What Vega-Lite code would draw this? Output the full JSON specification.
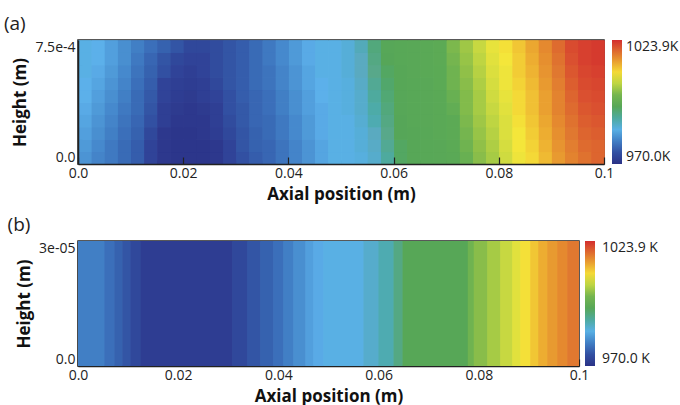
{
"$schema": "https://vega.github.io/schema/vega-lite/v6.json",
"background": "white",
"padding": {"left": 3, "top": 14, "right": 0, "bottom": 0},
"spacing": 12,
"config": {
  "font": "Open Sans",
  "view": {"stroke": "#222", "strokeWidth": 1.5},
  "axis": {"grid": false, "domainColor": "#222", "domainWidth": 1.5, "tickColor": "#222", "tickWidth": 1.2, "labelColor": "#222", "titleColor": "#111", "labelFontSize": 14, "titleFontSize": 17, "titleFontWeight": "bold", "labelFont": "Open Sans", "titleFont": "Open Sans"},
  "legend": {"labelFontSize": 14, "labelColor": "#222", "labelFont": "Open Sans", "gradientStrokeWidth": 0},
  "title": {"fontSize": 19, "fontWeight": "normal", "color": "#222", "anchor": "start", "frame": "bounds", "font": "Open Sans"}
},
"datasets": {
"a": [
{"x":0,"y":0,"t":982},{"x":0.0025,"y":0,"t":980.5},{"x":0.005,"y":0,"t":979.5},{"x":0.0075,"y":0,"t":978},{"x":0.01,"y":0,"t":976.5},{"x":0.0125,"y":0,"t":973.5},{"x":0.015,"y":0,"t":971.5},{"x":0.0175,"y":0,"t":971},{"x":0.02,"y":0,"t":971},{"x":0.0225,"y":0,"t":971},{"x":0.025,"y":0,"t":971.5},{"x":0.0275,"y":0,"t":973.5},{"x":0.03,"y":0,"t":975},{"x":0.0325,"y":0,"t":976.5},{"x":0.035,"y":0,"t":977.5},{"x":0.0375,"y":0,"t":979},{"x":0.04,"y":0,"t":980.5},{"x":0.0425,"y":0,"t":982},{"x":0.045,"y":0,"t":983.5},{"x":0.0475,"y":0,"t":985},{"x":0.05,"y":0,"t":985},{"x":0.0525,"y":0,"t":985.5},{"x":0.055,"y":0,"t":987},{"x":0.0575,"y":0,"t":990},{"x":0.06,"y":0,"t":993.5},{"x":0.0625,"y":0,"t":995},{"x":0.065,"y":0,"t":995.5},{"x":0.0675,"y":0,"t":996},{"x":0.07,"y":0,"t":997},{"x":0.0725,"y":0,"t":999},{"x":0.075,"y":0,"t":1001.5},{"x":0.0775,"y":0,"t":1003.5},{"x":0.08,"y":0,"t":1006},{"x":0.0825,"y":0,"t":1008.5},{"x":0.085,"y":0,"t":1010},{"x":0.0875,"y":0,"t":1012.5},{"x":0.09,"y":0,"t":1015},{"x":0.0925,"y":0,"t":1017},{"x":0.095,"y":0,"t":1018.5},{"x":0.0975,"y":0,"t":1019.5},
{"x":0,"y":0.000075,"t":982.5},{"x":0.0025,"y":0.000075,"t":981},{"x":0.005,"y":0.000075,"t":979.5},{"x":0.0075,"y":0.000075,"t":978},{"x":0.01,"y":0.000075,"t":976.5},{"x":0.0125,"y":0.000075,"t":973.5},{"x":0.015,"y":0.000075,"t":971.5},{"x":0.0175,"y":0.000075,"t":971},{"x":0.02,"y":0.000075,"t":971},{"x":0.0225,"y":0.000075,"t":971},{"x":0.025,"y":0.000075,"t":971.5},{"x":0.0275,"y":0.000075,"t":973.5},{"x":0.03,"y":0.000075,"t":975.5},{"x":0.0325,"y":0.000075,"t":977},{"x":0.035,"y":0.000075,"t":977.5},{"x":0.0375,"y":0.000075,"t":979},{"x":0.04,"y":0.000075,"t":980.5},{"x":0.0425,"y":0.000075,"t":982},{"x":0.045,"y":0.000075,"t":983.5},{"x":0.0475,"y":0.000075,"t":985},{"x":0.05,"y":0.000075,"t":985},{"x":0.0525,"y":0.000075,"t":986},{"x":0.055,"y":0.000075,"t":987.5},{"x":0.0575,"y":0.000075,"t":990.5},{"x":0.06,"y":0.000075,"t":993.5},{"x":0.0625,"y":0.000075,"t":995},{"x":0.065,"y":0.000075,"t":995.5},{"x":0.0675,"y":0.000075,"t":996},{"x":0.07,"y":0.000075,"t":997.5},{"x":0.0725,"y":0.000075,"t":999.5},{"x":0.075,"y":0.000075,"t":1002},{"x":0.0775,"y":0.000075,"t":1004},{"x":0.08,"y":0.000075,"t":1006.5},{"x":0.0825,"y":0.000075,"t":1009},{"x":0.085,"y":0.000075,"t":1010.5},{"x":0.0875,"y":0.000075,"t":1013},{"x":0.09,"y":0.000075,"t":1015.5},{"x":0.0925,"y":0.000075,"t":1017.5},{"x":0.095,"y":0.000075,"t":1019},{"x":0.0975,"y":0.000075,"t":1019.5},
{"x":0,"y":0.00015,"t":983},{"x":0.0025,"y":0.00015,"t":981.5},{"x":0.005,"y":0.00015,"t":980},{"x":0.0075,"y":0.00015,"t":978.5},{"x":0.01,"y":0.00015,"t":977},{"x":0.0125,"y":0.00015,"t":974},{"x":0.015,"y":0.00015,"t":971.5},{"x":0.0175,"y":0.00015,"t":971},{"x":0.02,"y":0.00015,"t":971},{"x":0.0225,"y":0.00015,"t":971.5},{"x":0.025,"y":0.00015,"t":972.5},{"x":0.0275,"y":0.00015,"t":974},{"x":0.03,"y":0.00015,"t":975.5},{"x":0.0325,"y":0.00015,"t":977},{"x":0.035,"y":0.00015,"t":978},{"x":0.0375,"y":0.00015,"t":979.5},{"x":0.04,"y":0.00015,"t":981},{"x":0.0425,"y":0.00015,"t":982.5},{"x":0.045,"y":0.00015,"t":984},{"x":0.0475,"y":0.00015,"t":985},{"x":0.05,"y":0.00015,"t":985},{"x":0.0525,"y":0.00015,"t":986},{"x":0.055,"y":0.00015,"t":988},{"x":0.0575,"y":0.00015,"t":991},{"x":0.06,"y":0.00015,"t":994},{"x":0.0625,"y":0.00015,"t":995},{"x":0.065,"y":0.00015,"t":995.5},{"x":0.0675,"y":0.00015,"t":996.5},{"x":0.07,"y":0.00015,"t":998},{"x":0.0725,"y":0.00015,"t":1000},{"x":0.075,"y":0.00015,"t":1002.5},{"x":0.0775,"y":0.00015,"t":1004.5},{"x":0.08,"y":0.00015,"t":1007},{"x":0.0825,"y":0.00015,"t":1009},{"x":0.085,"y":0.00015,"t":1011},{"x":0.0875,"y":0.00015,"t":1013.5},{"x":0.09,"y":0.00015,"t":1016},{"x":0.0925,"y":0.00015,"t":1018},{"x":0.095,"y":0.00015,"t":1019.5},{"x":0.0975,"y":0.00015,"t":1020},
{"x":0,"y":0.000225,"t":983.5},{"x":0.0025,"y":0.000225,"t":982},{"x":0.005,"y":0.000225,"t":980.5},{"x":0.0075,"y":0.000225,"t":979},{"x":0.01,"y":0.000225,"t":977.5},{"x":0.0125,"y":0.000225,"t":975},{"x":0.015,"y":0.000225,"t":973},{"x":0.0175,"y":0.000225,"t":971.5},{"x":0.02,"y":0.000225,"t":971.5},{"x":0.0225,"y":0.000225,"t":971.5},{"x":0.025,"y":0.000225,"t":973},{"x":0.0275,"y":0.000225,"t":974.5},{"x":0.03,"y":0.000225,"t":976},{"x":0.0325,"y":0.000225,"t":977.5},{"x":0.035,"y":0.000225,"t":978},{"x":0.0375,"y":0.000225,"t":979.5},{"x":0.04,"y":0.000225,"t":981},{"x":0.0425,"y":0.000225,"t":982.5},{"x":0.045,"y":0.000225,"t":984},{"x":0.0475,"y":0.000225,"t":985},{"x":0.05,"y":0.000225,"t":985},{"x":0.0525,"y":0.000225,"t":986.5},{"x":0.055,"y":0.000225,"t":989},{"x":0.0575,"y":0.000225,"t":991.5},{"x":0.06,"y":0.000225,"t":994},{"x":0.0625,"y":0.000225,"t":995.5},{"x":0.065,"y":0.000225,"t":996},{"x":0.0675,"y":0.000225,"t":996.5},{"x":0.07,"y":0.000225,"t":998},{"x":0.0725,"y":0.000225,"t":1000.5},{"x":0.075,"y":0.000225,"t":1003},{"x":0.0775,"y":0.000225,"t":1005},{"x":0.08,"y":0.000225,"t":1007},{"x":0.0825,"y":0.000225,"t":1009.5},{"x":0.085,"y":0.000225,"t":1011.5},{"x":0.0875,"y":0.000225,"t":1014},{"x":0.09,"y":0.000225,"t":1016.5},{"x":0.0925,"y":0.000225,"t":1018.5},{"x":0.095,"y":0.000225,"t":1020},{"x":0.0975,"y":0.000225,"t":1020.5},
{"x":0,"y":0.0003,"t":984},{"x":0.0025,"y":0.0003,"t":982.5},{"x":0.005,"y":0.0003,"t":981},{"x":0.0075,"y":0.0003,"t":979.5},{"x":0.01,"y":0.0003,"t":978},{"x":0.0125,"y":0.0003,"t":975.5},{"x":0.015,"y":0.0003,"t":973},{"x":0.0175,"y":0.0003,"t":972},{"x":0.02,"y":0.0003,"t":971.5},{"x":0.0225,"y":0.0003,"t":972},{"x":0.025,"y":0.0003,"t":973},{"x":0.0275,"y":0.0003,"t":975},{"x":0.03,"y":0.0003,"t":976},{"x":0.0325,"y":0.0003,"t":977.5},{"x":0.035,"y":0.0003,"t":978.5},{"x":0.0375,"y":0.0003,"t":980},{"x":0.04,"y":0.0003,"t":981.5},{"x":0.0425,"y":0.0003,"t":983},{"x":0.045,"y":0.0003,"t":984},{"x":0.0475,"y":0.0003,"t":985},{"x":0.05,"y":0.0003,"t":985.5},{"x":0.0525,"y":0.0003,"t":987},{"x":0.055,"y":0.0003,"t":989.5},{"x":0.0575,"y":0.0003,"t":992},{"x":0.06,"y":0.0003,"t":994.5},{"x":0.0625,"y":0.0003,"t":995.5},{"x":0.065,"y":0.0003,"t":996},{"x":0.0675,"y":0.0003,"t":997},{"x":0.07,"y":0.0003,"t":998.5},{"x":0.0725,"y":0.0003,"t":1001},{"x":0.075,"y":0.0003,"t":1003.5},{"x":0.0775,"y":0.0003,"t":1005.5},{"x":0.08,"y":0.0003,"t":1007.5},{"x":0.0825,"y":0.0003,"t":1010},{"x":0.085,"y":0.0003,"t":1012},{"x":0.0875,"y":0.0003,"t":1014.5},{"x":0.09,"y":0.0003,"t":1017},{"x":0.0925,"y":0.0003,"t":1019},{"x":0.095,"y":0.0003,"t":1020.5},{"x":0.0975,"y":0.0003,"t":1021},
{"x":0,"y":0.000375,"t":984.5},{"x":0.0025,"y":0.000375,"t":983},{"x":0.005,"y":0.000375,"t":981.5},{"x":0.0075,"y":0.000375,"t":980},{"x":0.01,"y":0.000375,"t":978},{"x":0.0125,"y":0.000375,"t":976},{"x":0.015,"y":0.000375,"t":973.5},{"x":0.0175,"y":0.000375,"t":972.5},{"x":0.02,"y":0.000375,"t":972},{"x":0.0225,"y":0.000375,"t":973},{"x":0.025,"y":0.000375,"t":973.5},{"x":0.0275,"y":0.000375,"t":975},{"x":0.03,"y":0.000375,"t":976.5},{"x":0.0325,"y":0.000375,"t":977.5},{"x":0.035,"y":0.000375,"t":978.5},{"x":0.0375,"y":0.000375,"t":980},{"x":0.04,"y":0.000375,"t":981.5},{"x":0.0425,"y":0.000375,"t":983},{"x":0.045,"y":0.000375,"t":984.5},{"x":0.0475,"y":0.000375,"t":985},{"x":0.05,"y":0.000375,"t":985.5},{"x":0.0525,"y":0.000375,"t":987},{"x":0.055,"y":0.000375,"t":990},{"x":0.0575,"y":0.000375,"t":992.5},{"x":0.06,"y":0.000375,"t":994.5},{"x":0.0625,"y":0.000375,"t":995.5},{"x":0.065,"y":0.000375,"t":996},{"x":0.0675,"y":0.000375,"t":997},{"x":0.07,"y":0.000375,"t":999},{"x":0.0725,"y":0.000375,"t":1001},{"x":0.075,"y":0.000375,"t":1003.5},{"x":0.0775,"y":0.000375,"t":1006},{"x":0.08,"y":0.000375,"t":1008},{"x":0.0825,"y":0.000375,"t":1010},{"x":0.085,"y":0.000375,"t":1012},{"x":0.0875,"y":0.000375,"t":1014.5},{"x":0.09,"y":0.000375,"t":1017},{"x":0.0925,"y":0.000375,"t":1019.5},{"x":0.095,"y":0.000375,"t":1021},{"x":0.0975,"y":0.000375,"t":1021.5},
{"x":0,"y":0.00045,"t":984.5},{"x":0.0025,"y":0.00045,"t":983.5},{"x":0.005,"y":0.00045,"t":982},{"x":0.0075,"y":0.00045,"t":980.5},{"x":0.01,"y":0.00045,"t":978.5},{"x":0.0125,"y":0.00045,"t":976.5},{"x":0.015,"y":0.00045,"t":973.5},{"x":0.0175,"y":0.00045,"t":973},{"x":0.02,"y":0.00045,"t":972.5},{"x":0.0225,"y":0.00045,"t":973},{"x":0.025,"y":0.00045,"t":974},{"x":0.0275,"y":0.00045,"t":975.5},{"x":0.03,"y":0.00045,"t":976.5},{"x":0.0325,"y":0.00045,"t":978},{"x":0.035,"y":0.00045,"t":979},{"x":0.0375,"y":0.00045,"t":980.5},{"x":0.04,"y":0.00045,"t":982},{"x":0.0425,"y":0.00045,"t":983.5},{"x":0.045,"y":0.00045,"t":984.5},{"x":0.0475,"y":0.00045,"t":985},{"x":0.05,"y":0.00045,"t":985.5},{"x":0.0525,"y":0.00045,"t":987.5},{"x":0.055,"y":0.00045,"t":990.5},{"x":0.0575,"y":0.00045,"t":993},{"x":0.06,"y":0.00045,"t":995},{"x":0.0625,"y":0.00045,"t":995.5},{"x":0.065,"y":0.00045,"t":996},{"x":0.0675,"y":0.00045,"t":997.5},{"x":0.07,"y":0.00045,"t":999.5},{"x":0.0725,"y":0.00045,"t":1001.5},{"x":0.075,"y":0.00045,"t":1004},{"x":0.0775,"y":0.00045,"t":1006.5},{"x":0.08,"y":0.00045,"t":1008.5},{"x":0.0825,"y":0.00045,"t":1010.5},{"x":0.085,"y":0.00045,"t":1012.5},{"x":0.0875,"y":0.00045,"t":1015},{"x":0.09,"y":0.00045,"t":1017.5},{"x":0.0925,"y":0.00045,"t":1020},{"x":0.095,"y":0.00045,"t":1021.5},{"x":0.0975,"y":0.00045,"t":1022},
{"x":0,"y":0.000525,"t":985},{"x":0.0025,"y":0.000525,"t":984},{"x":0.005,"y":0.000525,"t":982.5},{"x":0.0075,"y":0.000525,"t":981},{"x":0.01,"y":0.000525,"t":979},{"x":0.0125,"y":0.000525,"t":977},{"x":0.015,"y":0.000525,"t":975},{"x":0.0175,"y":0.000525,"t":973.5},{"x":0.02,"y":0.000525,"t":973},{"x":0.0225,"y":0.000525,"t":973.5},{"x":0.025,"y":0.000525,"t":974.5},{"x":0.0275,"y":0.000525,"t":975.5},{"x":0.03,"y":0.000525,"t":976.5},{"x":0.0325,"y":0.000525,"t":978},{"x":0.035,"y":0.000525,"t":979},{"x":0.0375,"y":0.000525,"t":980.5},{"x":0.04,"y":0.000525,"t":982},{"x":0.0425,"y":0.000525,"t":983.5},{"x":0.045,"y":0.000525,"t":985},{"x":0.0475,"y":0.000525,"t":985},{"x":0.05,"y":0.000525,"t":986},{"x":0.0525,"y":0.000525,"t":988},{"x":0.055,"y":0.000525,"t":991},{"x":0.0575,"y":0.000525,"t":993.5},{"x":0.06,"y":0.000525,"t":995},{"x":0.0625,"y":0.000525,"t":996},{"x":0.065,"y":0.000525,"t":996.5},{"x":0.0675,"y":0.000525,"t":997.5},{"x":0.07,"y":0.000525,"t":999.5},{"x":0.0725,"y":0.000525,"t":1002},{"x":0.075,"y":0.000525,"t":1004.5},{"x":0.0775,"y":0.000525,"t":1007},{"x":0.08,"y":0.000525,"t":1008.5},{"x":0.0825,"y":0.000525,"t":1011},{"x":0.085,"y":0.000525,"t":1013},{"x":0.0875,"y":0.000525,"t":1015.5},{"x":0.09,"y":0.000525,"t":1018},{"x":0.0925,"y":0.000525,"t":1020.5},{"x":0.095,"y":0.000525,"t":1022},{"x":0.0975,"y":0.000525,"t":1022.5},
{"x":0,"y":0.0006,"t":985},{"x":0.0025,"y":0.0006,"t":984.5},{"x":0.005,"y":0.0006,"t":983},{"x":0.0075,"y":0.0006,"t":981.5},{"x":0.01,"y":0.0006,"t":979.5},{"x":0.0125,"y":0.0006,"t":977.5},{"x":0.015,"y":0.0006,"t":975.5},{"x":0.0175,"y":0.0006,"t":974},{"x":0.02,"y":0.0006,"t":973.5},{"x":0.0225,"y":0.0006,"t":973.5},{"x":0.025,"y":0.0006,"t":974.5},{"x":0.0275,"y":0.0006,"t":975.5},{"x":0.03,"y":0.0006,"t":976.5},{"x":0.0325,"y":0.0006,"t":978},{"x":0.035,"y":0.0006,"t":979.5},{"x":0.0375,"y":0.0006,"t":981},{"x":0.04,"y":0.0006,"t":982.5},{"x":0.0425,"y":0.0006,"t":984},{"x":0.045,"y":0.0006,"t":985},{"x":0.0475,"y":0.0006,"t":985},{"x":0.05,"y":0.0006,"t":986},{"x":0.0525,"y":0.0006,"t":988},{"x":0.055,"y":0.0006,"t":991.5},{"x":0.0575,"y":0.0006,"t":994},{"x":0.06,"y":0.0006,"t":995.5},{"x":0.0625,"y":0.0006,"t":996},{"x":0.065,"y":0.0006,"t":996.5},{"x":0.0675,"y":0.0006,"t":998},{"x":0.07,"y":0.0006,"t":1000},{"x":0.0725,"y":0.0006,"t":1002.5},{"x":0.075,"y":0.0006,"t":1005},{"x":0.0775,"y":0.0006,"t":1007.5},{"x":0.08,"y":0.0006,"t":1009},{"x":0.0825,"y":0.0006,"t":1011},{"x":0.085,"y":0.0006,"t":1013.5},{"x":0.0875,"y":0.0006,"t":1016},{"x":0.09,"y":0.0006,"t":1018.5},{"x":0.0925,"y":0.0006,"t":1021},{"x":0.095,"y":0.0006,"t":1022.5},{"x":0.0975,"y":0.0006,"t":1023},
{"x":0,"y":0.000675,"t":985},{"x":0.0025,"y":0.000675,"t":984.5},{"x":0.005,"y":0.000675,"t":983},{"x":0.0075,"y":0.000675,"t":981.5},{"x":0.01,"y":0.000675,"t":980},{"x":0.0125,"y":0.000675,"t":978.5},{"x":0.015,"y":0.000675,"t":977},{"x":0.0175,"y":0.000675,"t":975.5},{"x":0.02,"y":0.000675,"t":974},{"x":0.0225,"y":0.000675,"t":974},{"x":0.025,"y":0.000675,"t":974.5},{"x":0.0275,"y":0.000675,"t":975.5},{"x":0.03,"y":0.000675,"t":976.5},{"x":0.0325,"y":0.000675,"t":978},{"x":0.035,"y":0.000675,"t":979.5},{"x":0.0375,"y":0.000675,"t":981},{"x":0.04,"y":0.000675,"t":982.5},{"x":0.0425,"y":0.000675,"t":984},{"x":0.045,"y":0.000675,"t":985},{"x":0.0475,"y":0.000675,"t":985},{"x":0.05,"y":0.000675,"t":986},{"x":0.0525,"y":0.000675,"t":988.5},{"x":0.055,"y":0.000675,"t":992},{"x":0.0575,"y":0.000675,"t":994.5},{"x":0.06,"y":0.000675,"t":995.5},{"x":0.0625,"y":0.000675,"t":996},{"x":0.065,"y":0.000675,"t":996.5},{"x":0.0675,"y":0.000675,"t":998},{"x":0.07,"y":0.000675,"t":1000.5},{"x":0.0725,"y":0.000675,"t":1003},{"x":0.075,"y":0.000675,"t":1005.5},{"x":0.0775,"y":0.000675,"t":1008},{"x":0.08,"y":0.000675,"t":1009.5},{"x":0.0825,"y":0.000675,"t":1011.5},{"x":0.085,"y":0.000675,"t":1014},{"x":0.0875,"y":0.000675,"t":1016.5},{"x":0.09,"y":0.000675,"t":1019},{"x":0.0925,"y":0.000675,"t":1021.5},{"x":0.095,"y":0.000675,"t":1022.5},{"x":0.0975,"y":0.000675,"t":1023}
],
"b": [
{"x":0,"x2":0.0053,"t":980},{"x":0.0053,"x2":0.0073,"t":978.5},{"x":0.0073,"x2":0.0089,"t":977},{"x":0.0089,"x2":0.0105,"t":975.5},{"x":0.0105,"x2":0.0125,"t":974},{"x":0.0125,"x2":0.0308,"t":972.5},{"x":0.0308,"x2":0.0338,"t":974},{"x":0.0338,"x2":0.0364,"t":975.5},{"x":0.0364,"x2":0.039,"t":977},{"x":0.039,"x2":0.041,"t":978.5},{"x":0.041,"x2":0.043,"t":980},{"x":0.043,"x2":0.0454,"t":981.5},{"x":0.0454,"x2":0.047,"t":983},{"x":0.047,"x2":0.049,"t":984},{"x":0.049,"x2":0.057,"t":985},{"x":0.057,"x2":0.06,"t":987},{"x":0.06,"x2":0.063,"t":989},{"x":0.063,"x2":0.0648,"t":991.5},{"x":0.0648,"x2":0.0778,"t":995},{"x":0.0778,"x2":0.079,"t":999.5},{"x":0.079,"x2":0.0817,"t":1001.5},{"x":0.0817,"x2":0.0843,"t":1003.5},{"x":0.0843,"x2":0.0867,"t":1005.5},{"x":0.0867,"x2":0.0883,"t":1007.5},{"x":0.0883,"x2":0.0903,"t":1009.5},{"x":0.0903,"x2":0.0919,"t":1011.5},{"x":0.0919,"x2":0.0937,"t":1013.5},{"x":0.0937,"x2":0.0957,"t":1015},{"x":0.0957,"x2":0.0977,"t":1016.5},{"x":0.0977,"x2":0.1,"t":1018}
]
},
"resolve": {"scale": {"color": "independent"}},
"vconcat": [
{
  "title": {"text": "(a)", "dx": -8, "offset": 5},
  "width": 526, "height": 124,
  "resolve": {"axis": {"x": "independent", "y": "independent"}},
  "layer": [
    {
      "data": {"name": "a"},
      "layer": [{"mark": {"type": "rect", "strokeWidth": 0}}, {"mark": {"type": "rect", "strokeWidth": 0}}, {"mark": {"type": "rect", "strokeWidth": 0}}],
      "encoding": {
        "x": {"field": "x", "type": "quantitative", "bin": {"binned": true, "step": 0.0025}, "scale": {"domain": [0, 0.1], "nice": false, "zero": false},
              "axis": {"orient": "bottom", "values": [0, 0.02, 0.04, 0.06, 0.08, 0.1], "labelExpr": "datum.value == 0 ? '0.0' : format(datum.value, '.2~f')", "labelFlush": false, "tickSize": -7, "labelPadding": 9, "title": "Axial position (m)", "titlePadding": 6}},
        "y": {"field": "y", "type": "quantitative", "bin": {"binned": true, "step": 0.000075}, "scale": {"domain": [0, 0.00075], "nice": false, "zero": false},
              "axis": {"orient": "left", "values": [0, 0.00075], "labelExpr": "datum.value == 0 ? '0.0' : '7.5e-4'", "tickSize": 0, "labelPadding": 3, "labelFlush": true, "title": "Height (m)", "titlePadding": 5}},
        "color": {"field": "t", "type": "quantitative",
          "scale": {"domain": [970, 973, 976, 979, 982, 984.5, 988, 991, 994, 998, 1002, 1006, 1009, 1012, 1015, 1018, 1021, 1023.9], "range": ["#2b3286", "#2f3f94", "#3459a8", "#3d74bd", "#4c94d4", "#5cb0ea", "#5aaac0", "#58a88a", "#56a658", "#5caa55", "#90c048", "#cfdb40", "#f4e63a", "#f0c034", "#e89a30", "#e07830", "#da5030", "#d32e2e"]},
          "legend": {"title": null, "values": [970, 1023.9], "labelExpr": "datum.value > 1000 ? '1023.9K' : '970.0K'", "gradientLength": 124, "gradientThickness": 10, "offset": 8, "labelOffset": 4, "orient": "right", "direction": "vertical", "type": "gradient"}}
      }
    },
    {
      "data": {"values": [{}]},
      "mark": {"type": "point", "opacity": 0},
      "encoding": {
        "x": {"datum": 0, "type": "quantitative", "axis": {"orient": "bottom", "values": [0.005, 0.01, 0.015, 0.025, 0.03, 0.035, 0.045, 0.05, 0.055, 0.065, 0.07, 0.075, 0.085, 0.09, 0.095], "labels": false, "domain": false, "tickSize": -4, "title": null}},
        "y": {"datum": 0, "type": "quantitative", "axis": {"orient": "left", "values": [0.00015, 0.0003, 0.00045, 0.0006], "labels": false, "domain": false, "tickSize": -4, "title": null}}
      }
    }
  ]
},
{
  "title": {"text": "(b)", "dx": -8, "offset": 5},
  "width": 501, "height": 125,
  "resolve": {"axis": {"x": "independent", "y": "independent"}},
  "layer": [
    {
      "data": {"name": "b"},
      "layer": [{"mark": {"type": "rect", "strokeWidth": 0}}, {"mark": {"type": "rect", "strokeWidth": 0}}, {"mark": {"type": "rect", "strokeWidth": 0}}],
      "encoding": {
        "x": {"field": "x", "type": "quantitative", "scale": {"domain": [0, 0.1], "nice": false, "zero": false},
              "axis": {"orient": "bottom", "values": [0, 0.02, 0.04, 0.06, 0.08, 0.1], "labelExpr": "datum.value == 0 ? '0.0' : format(datum.value, '.2~f')", "labelFlush": false, "tickSize": -7, "labelPadding": 9, "title": "Axial position (m)", "titlePadding": 6}},
        "x2": {"field": "x2"},
        "y": {"datum": 0, "type": "quantitative", "scale": {"domain": [0, 0.00003], "nice": false, "zero": false},
              "axis": {"orient": "left", "values": [0, 0.00003], "labelExpr": "datum.value == 0 ? '0.0' : '3e-05'", "tickSize": 0, "labelPadding": 3, "labelFlush": true, "title": "Height (m)", "titlePadding": 5}},
        "y2": {"datum": 0.00003},
        "color": {"field": "t", "type": "quantitative",
          "scale": {"domain": [970, 973, 976, 979, 982, 984.5, 988, 991, 994, 998, 1002, 1006, 1009, 1012, 1015, 1018, 1021, 1023.9], "range": ["#2b3286", "#2f3f94", "#3459a8", "#3d74bd", "#4c94d4", "#5cb0ea", "#5aaac0", "#58a88a", "#56a658", "#5caa55", "#90c048", "#cfdb40", "#f4e63a", "#f0c034", "#e89a30", "#e07830", "#da5030", "#d32e2e"]},
          "legend": {"title": null, "values": [970, 1023.9], "labelExpr": "datum.value > 1000 ? '1023.9 K' : '970.0 K'", "gradientLength": 125, "gradientThickness": 10, "offset": 6, "labelOffset": 7, "orient": "right", "direction": "vertical", "type": "gradient"}}
      }
    },
    {
      "data": {"values": [{}]},
      "mark": {"type": "point", "opacity": 0},
      "encoding": {
        "x": {"datum": 0, "type": "quantitative", "axis": {"orient": "bottom", "values": [0.005, 0.01, 0.015, 0.025, 0.03, 0.035, 0.045, 0.05, 0.055, 0.065, 0.07, 0.075, 0.085, 0.09, 0.095], "labels": false, "domain": false, "tickSize": -4, "title": null}},
        "y": {"datum": 0, "type": "quantitative", "axis": {"orient": "left", "values": [0.00001, 0.00002], "labels": false, "domain": false, "tickSize": -4, "title": null}}
      }
    }
  ]
}
]
}
